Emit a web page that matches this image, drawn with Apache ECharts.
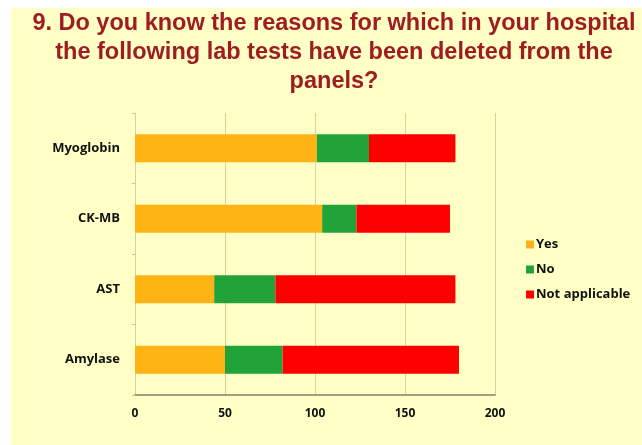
<!DOCTYPE html>
<html>
<head>
<meta charset="utf-8">
<script src="https://cdn.jsdelivr.net/npm/echarts@6/dist/echarts.min.js"></script>
<style>
html,body{margin:0;padding:0;background:#ffffff;}
#bg{position:absolute;left:11px;top:8px;width:631px;height:437px;background:#FFFFC6;}
#chart{position:absolute;left:0;top:0;width:642px;height:445px;}
</style>
</head>
<body>
<div id="bg"></div>
<div id="chart"></div>
<script>
const titleLines = ['9. Do you know the reasons for which in your hospital', 'the following lab tests have been deleted from the', 'panels?'];
const categories = ['Myoglobin', 'CK-MB', 'AST', 'Amylase'];
const seriesNames = ['Yes', 'No', 'Not applicable'];
const yesValues = [101, 104, 44, 50];
const noValues = [29, 19, 34, 32];
const naValues = [48, 52, 100, 98];
const xTicks = [0, 50, 100, 150, 200];

const colors = ['#FFB315', '#21A33A', '#FE0000'];
const valueSets = [yesValues, noValues, naValues];

const chart = echarts.init(document.getElementById('chart'), null, {renderer: 'canvas'});
chart.setOption({
  backgroundColor: 'transparent',
  animation: false,
  title: {
    text: titleLines.join('\n'),
    left: 329,
    top: 4,
    textAlign: 'center',
    textStyle: {
      fontFamily: 'Liberation Sans, Arial, sans-serif',
      fontWeight: 'bold',
      fontSize: 23.5,
      lineHeight: 29,
      color: '#9E1C22'
    }
  },
  legend: {
    orient: 'vertical',
    left: 521,
    top: 233,
    itemWidth: 8,
    itemHeight: 8,
    itemGap: 12,
    icon: 'rect',
    data: seriesNames,
    textStyle: {
      fontFamily: 'Open Sans, Liberation Sans, sans-serif',
      fontWeight: 'bold',
      fontSize: 13,
      color: '#111111',
      padding: [0, 0, 0, -3]
    }
  },
  grid: {left: 135, right: 147, top: 113, bottom: 50, containLabel: false},
  xAxis: {
    type: 'value',
    min: xTicks[0],
    max: xTicks[xTicks.length - 1],
    interval: 50,
    axisLine: {show: true, lineStyle: {color: '#A29E7E', width: 2}},
    axisTick: {show: false},
    splitLine: {show: true, lineStyle: {color: '#D6CFA8', width: 1}},
    axisLabel: {
      margin: 13,
      fontFamily: 'Open Sans, Liberation Sans, sans-serif',
      fontWeight: 'bold',
      fontSize: 12,
      color: '#111111'
    }
  },
  yAxis: {
    type: 'category',
    data: categories,
    inverse: true,
    axisLine: {show: true, lineStyle: {color: '#D6CFA8', width: 1}},
    axisTick: {show: true, length: 3, lineStyle: {color: '#C8C2A0'}},
    axisLabel: {
      margin: 15,
      fontFamily: 'Open Sans, Liberation Sans, sans-serif',
      fontWeight: 'bold',
      fontSize: 13,
      color: '#111111'
    }
  },
  series: seriesNames.map((name, i) => ({
    name: name,
    type: 'bar',
    stack: 'total',
    barWidth: 28,
    itemStyle: {color: colors[i]},
    data: valueSets[i]
  }))
});
</script>
</body>
</html>
